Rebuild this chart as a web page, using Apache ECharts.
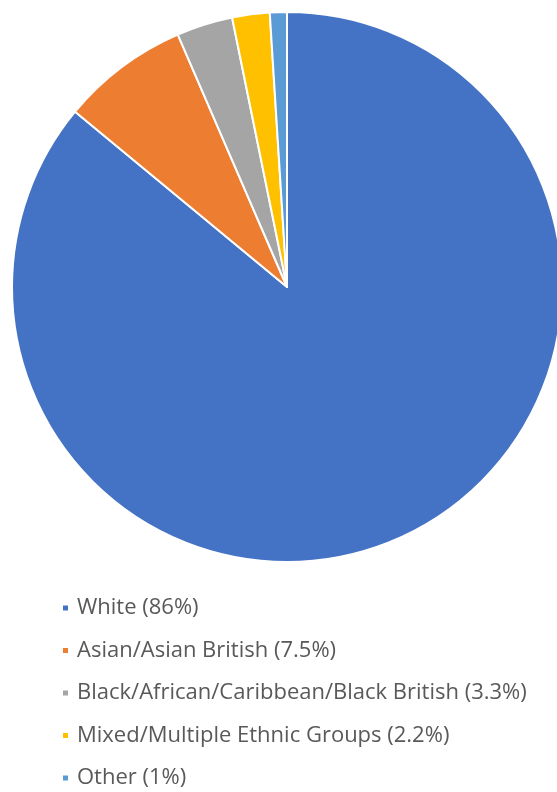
<!DOCTYPE html>
<html>
<head>
<meta charset="utf-8">
<script src="https://cdn.jsdelivr.net/npm/echarts@6/dist/echarts.min.js"></script>
<style>
  html, body { margin: 0; padding: 0; background: #fff; }
  #chart { width: 557px; height: 792px; }
</style>
</head>
<body>
<div id="chart"></div>
<script>
// ethnic groups
var groups = ['White', 'Asian/Asian British', 'Black/African/Caribbean/Black British', 'Mixed/Multiple Ethnic Groups', 'Other'];
var shares = [86, 7.5, 3.3, 2.2, 1];
var colors = ['#4472C4', '#ED7D31', '#A5A5A5', '#FFC000', '#5B9BD5'];

var chart = echarts.init(document.getElementById('chart'));

var option = {
  animation: false,
  color: colors,
  legend: {
    orient: 'vertical',
    left: 61,
    top: 597,
    height: 195,
    padding: 0,
    icon: 'rect',
    itemWidth: 7,
    itemHeight: 7,
    itemGap: 20.5,
    selectedMode: false,
    data: groups,
    formatter: function (name) {
      return name + ' (' + shares[groups.indexOf(name)] + '%)';
    },
    textStyle: {
      fontFamily: 'Open Sans',
      fontSize: 22,
      lineHeight: 22,
      color: '#595959',
      padding: [0, 0, 0, 3]
    }
  },
  series: [{
    type: 'pie',
    center: [287, 287],
    radius: 275,
    startAngle: 90,
    clockwise: true,
    label: { show: false },
    labelLine: { show: false },
    itemStyle: { borderColor: '#fff', borderWidth: 2 },
    emphasis: { disabled: true },
    data: groups.map(function (g, i) {
      return { name: g, value: shares[i] };
    })
  }]
};

chart.setOption(option);
</script>
</body>
</html>
